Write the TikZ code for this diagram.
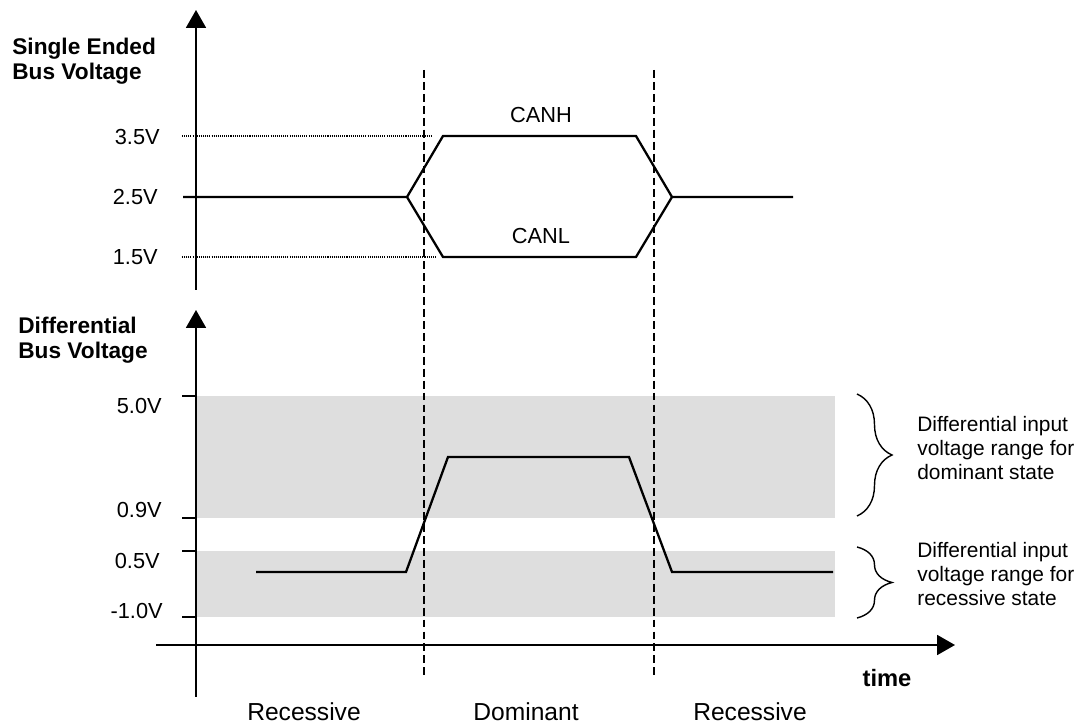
\documentclass[tikz,border=0pt]{standalone}
\usepackage{fontspec}
\setmainfont{Liberation Sans}
\usetikzlibrary{arrows.meta,decorations.pathreplacing}
\definecolor{bandgray}{RGB}{222,222,222}
\tikzset{
  axis/.style={line width=1.1pt,-{Triangle[width=0.4cm,length=0.36cm]}},
  signal/.style={line width=1.3pt,line join=miter},
  bitedge/.style={line width=0.9pt,dash pattern=on 4.5pt off 2.3pt},
  level/.style={line width=0.6pt,dash pattern=on 0.6pt off 0.6pt},
  vtick/.style={line width=1pt},
  vlabel/.style={anchor=east,inner sep=0pt,font=\fontsize{12.4}{14}\selectfont},
  axtitle/.style={anchor=north west,inner sep=0pt,align=left,font=\fontsize{12.9}{14.3}\bfseries\selectfont},
  rangebrace/.style={line width=0.8pt,decorate,decoration={brace,amplitude=0.7cm}},
  rangetext/.style={anchor=north west,inner sep=0pt,align=left,font=\fontsize{11.9}{13.6}\selectfont},
  statelabel/.style={inner sep=0pt,font=\fontsize{14}{16}\selectfont},
}
\begin{document}
\begin{tikzpicture}[x=0.02cm,y=-0.02cm]
\useasboundingbox (0,0) rectangle (1080,726);

% receiver threshold ranges
\fill[bandgray] (196,396) rectangle (835,518);
\fill[bandgray] (196,551) rectangle (835,617);

\coordinate (se-bot) at (196,290);
\coordinate (se-top) at (196,10);
\coordinate (df-bot) at (196,697);
\coordinate (df-top) at (196,310);
\coordinate (t-left) at (156,645);
\coordinate (t-right) at (955,645);
\draw[axis] (se-bot) -- (se-top);
\draw[axis] (df-bot) -- (df-top);
\draw[axis] (t-left) -- (t-right);

\node[axtitle] (se-title) at (12,38) {Single Ended\\Bus Voltage};
\node[axtitle] (df-title) at (18,317) {Differential\\Bus Voltage};
\node[inner sep=0pt,font=\fontsize{13.5}{15}\bfseries\selectfont] (time) at (887,678) {time};

% bit boundaries
\draw[bitedge] (424,70) -- (424,676);
\draw[bitedge] (654,70) -- (654,676);

\draw[level] (182,136) -- (432,136);
\draw[level] (182,257) -- (437,257);
\foreach \y in {396,518,551,617} \draw[vtick] (182,\y) -- (196,\y);

\node[vlabel] (v35) at (160,137) {3.5V};
\node[vlabel] (v25) at (158,197) {2.5V};
\node[vlabel] (v15) at (158,257) {1.5V};
\node[vlabel] (v50) at (162,406) {5.0V};
\node[vlabel] (v09) at (162,510) {0.9V};
\node[vlabel] (v05) at (160,561) {0.5V};
\node[vlabel] (vm10) at (163,611) {-1.0V};

% CANH / CANL and differential voltage
\draw[signal] (183,197) -- (407,197) -- (443,136) -- (636,136) -- (672,197) -- (793,197);
\draw[signal] (407,197) -- (443,257) -- (636,257) -- (672,197);
\draw[signal] (256,572) -- (406,572) -- (448,457) -- (629,457) -- (672,572) -- (833,572);
\node[vlabel,anchor=center] (canh) at (541,115) {CANH};
\node[vlabel,anchor=center] (canl) at (541,236) {CANL};

\draw[rangebrace] (857,394) -- (857,516);
\draw[rangebrace] (857,547) -- (857,618);
\node[rangetext] (dom-range) at (917,416) {Differential input\\voltage range for\\dominant state};
\node[rangetext] (rec-range) at (917,542) {Differential input\\voltage range for\\recessive state};

\node[statelabel] (rec1) at (304,712) {Recessive};
\node[statelabel] (dom) at (526,712) {Dominant};
\node[statelabel] (rec2) at (750,712) {Recessive};
\end{tikzpicture}
\end{document}
